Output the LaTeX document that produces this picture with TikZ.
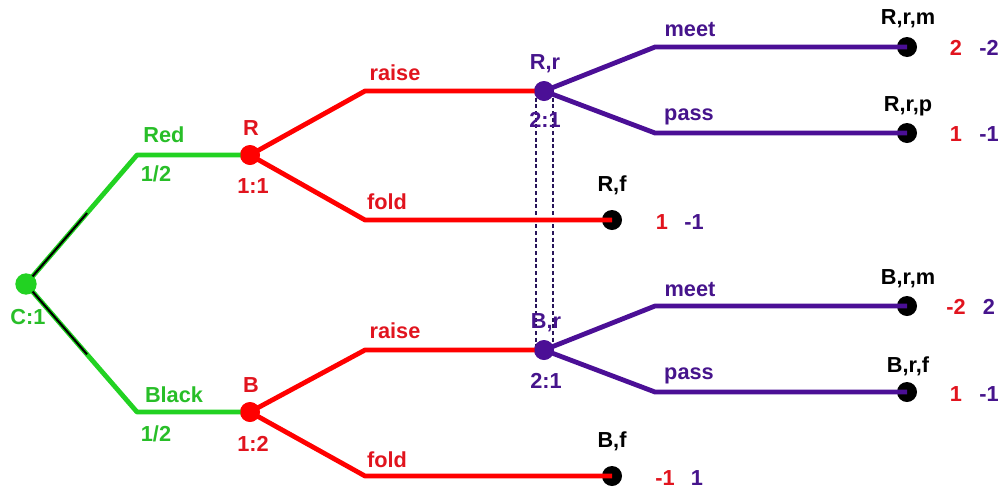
\documentclass[tikz,border=0pt]{standalone}
\usepackage{fontspec}
\setmainfont{Liberation Sans}
\usetikzlibrary{calc}
\definecolor{gc}{RGB}{34,210,34}
\definecolor{gt}{RGB}{40,190,40}
\definecolor{rc}{RGB}{255,0,0}
\definecolor{rt}{RGB}{225,20,30}
\definecolor{pc}{RGB}{75,15,150}
\definecolor{pt}{RGB}{70,20,140}
\definecolor{dk}{RGB}{40,20,90}
\begin{document}
\begin{tikzpicture}[x=0.75pt,y=-0.75pt,
  font=\fontsize{16.3}{19}\selectfont\bfseries,
  gline/.style={draw=gc,line width=3.6pt,line join=round},
  rline/.style={draw=rc,line width=3.6pt,line join=round},
  pline/.style={draw=pc,line width=3.6pt,line join=round},
  dotn/.style={circle,inner sep=0pt,minimum size=15pt},
  term/.style={dotn,fill=black},
  lab/.style={inner sep=0pt}]
\useasboundingbox (0,0) rectangle (1002,490);
% coordinates
\coordinate (c1) at (137,155);
\coordinate (c2) at (137,412);
\coordinate (r1) at (365,91);
\coordinate (r2) at (365,220);
\coordinate (b1) at (365,350);
\coordinate (b2) at (365,476);
\coordinate (rr1) at (655,47);
\coordinate (rr2) at (655,133);
\coordinate (br1) at (655,306);
\coordinate (br2) at (655,392);
% nodes
\node[dotn,fill=gc,minimum size=16pt] (C) at (26,284) {};
\node[dotn,fill=rc] (R) at (250,155) {};
\node[dotn,fill=rc] (B) at (250,412) {};
\node[dotn,fill=pc] (Rr) at (544,91) {};
\node[dotn,fill=pc] (Br) at (544,350) {};
\node[term] (Rf) at (612,220) {};
\node[term] (Bf) at (612,476) {};
\node[term] (Rrm) at (907,47) {};
\node[term] (Rrp) at (907,133) {};
\node[term] (Brm) at (907,306) {};
\node[term] (Brf) at (907,392) {};
% information set
\draw[dk,line width=0.9pt,dash pattern=on 3pt off 2pt] ($(Rr.center)+(-8,0)$) -- ($(Br.center)+(-8,0)$);
\draw[dk,line width=0.9pt,dash pattern=on 3pt off 2pt] ($(Rr.center)+(9,0)$) -- ($(Br.center)+(9,0)$);
% edges
\draw[gline] (C.center) -- (c1) -- (R.center);
\draw[gline] (C.center) -- (c2) -- (B.center);
\draw[black,line width=1.6pt] (C.center) -- ($(C.center)!0.55!(c1)$);
\draw[black,line width=1.6pt] (C.center) -- ($(C.center)!0.55!(c2)$);
\draw[rline] (R.center) -- (r1) -- (Rr.center);
\draw[rline] (R.center) -- (r2) -- (Rf.center);
\draw[rline] (B.center) -- (b1) -- (Br.center);
\draw[rline] (B.center) -- (b2) -- (Bf.center);
\draw[pline] (Rr.center) -- (rr1) -- (Rrm.center);
\draw[pline] (Rr.center) -- (rr2) -- (Rrp.center);
\draw[pline] (Br.center) -- (br1) -- (Brm.center);
\draw[pline] (Br.center) -- (br2) -- (Brf.center);
% redraw dots on top
\fill[gc] (C) circle (7.5pt);
\fill[rc] (R) circle (7.2pt);
\fill[rc] (B) circle (7.2pt);
\fill[pc] (Rr) circle (7.2pt);
\fill[pc] (Br) circle (7.2pt);
% labels
\node[lab,text=gt] (lC) at (28,317) {C:1};
\node[lab,text=gt] (lRed) at (164,135) {Red};
\node[lab,text=gt] (lRedp) at (156,174) {1/2};
\node[lab,text=gt] (lBlack) at (174,395) {Black};
\node[lab,text=gt] (lBlackp) at (156,434) {1/2};
\node[lab,text=rt] (lR) at (251,128) {R};
\node[lab,text=rt] (lR2) at (253,186) {1:1};
\node[lab,text=rt] (lB) at (251,385) {B};
\node[lab,text=rt] (lB2) at (253,444) {1:2};
\node[lab,text=rt] (lra1) at (395,73) {raise};
\node[lab,text=rt] (lfo1) at (387,202) {fold};
\node[lab,text=rt] (lra2) at (395,331) {raise};
\node[lab,text=rt] (lfo2) at (387,460) {fold};
\node[lab,text=pt] (lRr) at (545,64) {R,r};
\node[lab,text=pt] (lRr2) at (545,120) {2:1};
\node[lab,text=pt] (lBr) at (546,323) {B,r};
\node[lab,text=pt] (lBr2) at (546,381) {2:1};
\node[lab,text=pt] (lme1) at (690,30) {meet};
\node[lab,text=pt] (lpa1) at (689,117) {pass};
\node[lab,text=pt] (lme2) at (690,290) {meet};
\node[lab,text=pt] (lpa2) at (689,376) {pass};
\node[lab] (lRf) at (612,185) {R,f};
\node[lab] (lBf) at (612,441) {B,f};
\node[lab] (lRrm) at (908,19) {R,r,m};
\node[lab] (lRrp) at (908,106) {R,r,p};
\node[lab] (lBrm) at (908,279) {B,r,m};
\node[lab] (lBrf) at (908,366) {B,r,f};
% payoffs
\node[lab,text=rt] at (956,48) {2};
\node[lab,text=pt] at (989,48) {-2};
\node[lab,text=rt] at (956,134) {1};
\node[lab,text=pt] at (989,134) {-1};
\node[lab,text=rt] at (662,222) {1};
\node[lab,text=pt] at (694,222) {-1};
\node[lab,text=rt] at (956,307) {-2};
\node[lab,text=pt] at (989,307) {2};
\node[lab,text=rt] at (956,394) {1};
\node[lab,text=pt] at (989,394) {-1};
\node[lab,text=rt] at (665,478) {-1};
\node[lab,text=pt] at (697,478) {1};
\end{tikzpicture}
\end{document}
